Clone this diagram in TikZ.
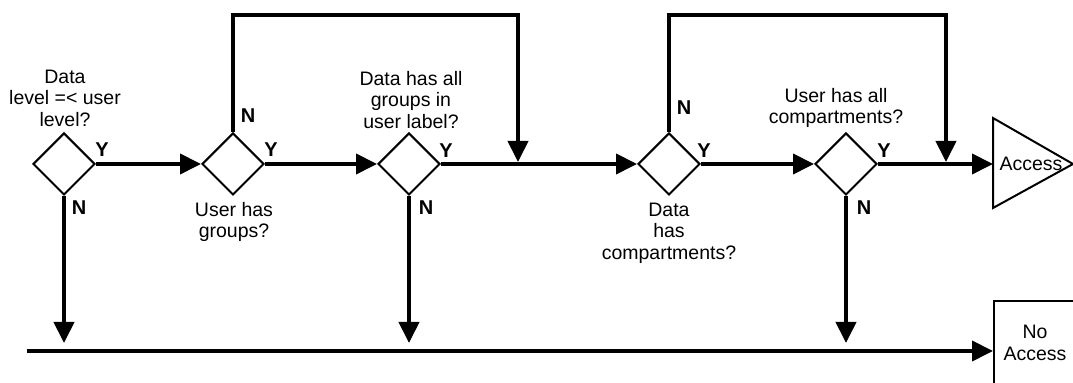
\documentclass[tikz,border=0pt]{standalone}
\usepackage{fontspec}
\setmainfont{Liberation Sans}
\usetikzlibrary{shapes.geometric,arrows.meta}

\begin{document}
\begin{tikzpicture}[x=0.5pt, y=-0.5pt,
    every node/.style={font=\fontsize{9.75}{10.75}\selectfont, align=center},
    test/.style={diamond, draw, line width=1pt, inner sep=0pt, minimum size=31pt},
    flow/.style={line width=2pt, -{Triangle[length=10.5pt, width=10pt]}},
    yn/.style={font=\fontsize{10}{12}\selectfont\bfseries}]
    \clip (0,0) rectangle (1073,383);

    % Define the decision nodes with specific positions
    \node[test] (d1) at (64, 164) {};
    \node[test] (d2) at (233, 164) {};
    \node[test] (d3) at (409, 164) {};
    \node[test] (d4) at (669, 164) {};
    \node[test] (d5) at (846, 164) {};

    % Questions next to the decisions
    \node (q1) at (65, 98) {Data\\level =< user\\level?};
    \node (q2) at (234, 222) {User has\\groups?};
    \node (q3) at (411, 100) {Data has all\\groups in\\user label?};
    \node (q4) at (669, 233) {Data\\has\\compartments?};
    \node (q5) at (836, 108) {User has all\\compartments?};

    % Y and N labels
    \node[yn] (y1) at (102, 150) {Y};
    \node[yn] (n1) at (79, 208) {N};
    \node[yn] (y2) at (271, 150) {Y};
    \node[yn] (n2) at (248, 116) {N};
    \node[yn] (y3) at (446, 151) {Y};
    \node[yn] (n3) at (426, 208) {N};
    \node[yn] (y4) at (704, 151) {Y};
    \node[yn] (n4) at (684, 108) {N};
    \node[yn] (y5) at (884, 151) {Y};
    \node[yn] (n5) at (864, 208) {N};

    % The two results
    \draw[line width=1pt] (993, 118) -- (1073, 164) -- (993, 208) -- cycle;
    \coordinate (acc) at (993, 164);
    \node (acctxt) at (1031, 164) {Access};
    \node[draw, line width=1pt, minimum width=41pt, minimum height=42pt,
        anchor=north west] (noacc) at (993, 300) {No\\Access};

    \coordinate (top1) at (518, 15);
    \coordinate (top2) at (946, 15);
    \coordinate (nstart) at (27, 351);

    % Draw the edges between nodes
    \draw[flow] (d1.east) -- (d2.west);
    \draw[flow] (d2.east) -- (d3.west);
    \draw[flow] (d3.east) -- (d4.west);
    \draw[flow] (d4.east) -- (d5.west);
    \draw[flow] (d5.east) -- (acc);
    \draw[flow, shorten >=1pt] (d2.north) |- (top1) -- (top1 |- d3.east);
    \draw[flow, shorten >=1pt] (d4.north) |- (top2) -- (top2 |- d5.east);
    \draw[flow, shorten >=4pt] (d1.south) -- (d1.south |- nstart);
    \draw[flow, shorten >=4pt] (d3.south) -- (d3.south |- nstart);
    \draw[flow, shorten >=4pt] (d5.south) -- (d5.south |- nstart);
    \draw[flow] (nstart) -- (nstart -| noacc.west);
\end{tikzpicture}
\end{document}
